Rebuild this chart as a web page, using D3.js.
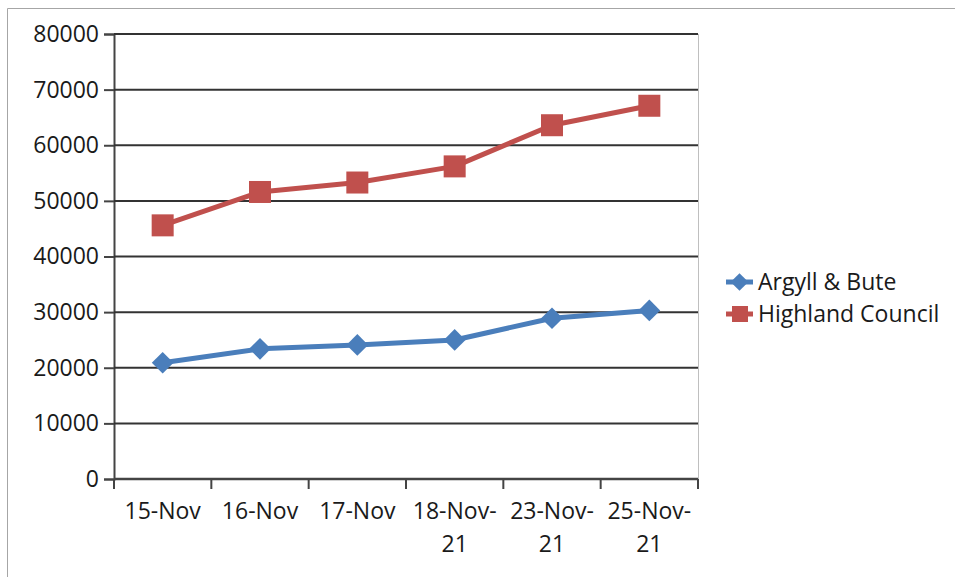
<!DOCTYPE html>
<html lang="en">
  <head>
    <meta charset='utf-8'>
    <script src='https://d3js.org/d3.v7.min.js'></script>
    <title>Argyll & Bute vs Highland Council</title>
    <style>
      body { margin: 0px; background: #fff; }
    </style>
  </head>
  <body>
    <div id='viz'></div>
    <script>
      // values
      const categories = [['15-Nov'], ['16-Nov'], ['17-Nov'], ['18-Nov-', '21'], ['23-Nov-', '21'], ['25-Nov-', '21']];
      const argyll = [20900, 23400, 24100, 25000, 28900, 30300];
      const highland = [45600, 51600, 53300, 56200, 63600, 67100];
      const yTicks = [0, 10000, 20000, 30000, 40000, 50000, 60000, 70000, 80000];
      const seriesNames = ['Argyll & Bute', 'Highland Council'];

      const width = 955, height = 577;
      const margin = { left: 114, right: 257, top: 34, bottom: 98 };
      const innerWidth = width - margin.left - margin.right;
      const innerHeight = height - margin.top - margin.bottom;
      const font = "'Open Sans', sans-serif";
      const textColor = '#1a1a1a';

      const svg = d3.select('#viz').append('svg')
        .attr('width', width)
        .attr('height', height);

      // outer chart border (runs off the right and bottom edges)
      svg.append('path')
        .attr('d', `M7.5,${height} V8.5 H${width}`)
        .attr('fill', 'none')
        .attr('stroke', '#a6a6a6');

      const g = svg.append('g')
        .attr('transform', `translate(${margin.left},${margin.top})`);

      const xScale = d3.scaleBand()
        .domain(d3.range(categories.length))
        .range([0, innerWidth]);

      const yScale = d3.scaleLinear()
        .domain([0, 80000])
        .range([innerHeight, 0]);

      // plot area right border
      g.append('line')
        .attr('x1', innerWidth + 0.5).attr('x2', innerWidth + 0.5)
        .attr('y1', 0).attr('y2', innerHeight)
        .attr('stroke', '#bfbfbf');

      const yAxis = d3.axisLeft(yScale)
        .tickValues(yTicks)
        .tickFormat(d3.format('d'))
        .tickSize(10)
        .tickPadding(5);

      const yAxisG = g.append('g').call(yAxis)
        .attr('font-size', 23)
        .attr('font-family', font);
      yAxisG.select('.domain').attr('stroke', '#444').attr('stroke-width', 2);
      yAxisG.selectAll('.tick line').attr('stroke', '#444').attr('stroke-width', 2);
      yAxisG.selectAll('.tick text').attr('fill', textColor);

      // horizontal gridlines
      g.append('g').selectAll('line')
        .data(yTicks.filter(d => d > 0))
        .join('line')
        .attr('x1', 0).attr('x2', innerWidth)
        .attr('y1', d => yScale(d)).attr('y2', d => yScale(d))
        .attr('stroke', '#333')
        .attr('stroke-width', 2);

      // x axis: ticks between categories
      const xAxisG = g.append('g')
        .attr('transform', `translate(0,${innerHeight})`);
      xAxisG.append('line')
        .attr('x1', 0).attr('x2', innerWidth)
        .attr('stroke', '#444').attr('stroke-width', 2.5);
      xAxisG.selectAll('.xt')
        .data(d3.range(categories.length + 1))
        .join('line')
        .attr('class', 'xt')
        .attr('x1', i => i * xScale.step()).attr('x2', i => i * xScale.step())
        .attr('y1', 0).attr('y2', 10)
        .attr('stroke', '#444').attr('stroke-width', 2);

      const xLabels = xAxisG.selectAll('.xlabel')
        .data(categories)
        .join('text')
        .attr('class', 'xlabel')
        .attr('transform', (d, i) => `translate(${xScale(i) + xScale.bandwidth() / 2},0)`)
        .attr('text-anchor', 'middle')
        .attr('font-size', 23)
        .attr('font-family', font)
        .attr('fill', textColor);
      xLabels.selectAll('tspan')
        .data(d => d)
        .join('tspan')
        .attr('x', 0)
        .attr('y', (d, i) => 40 + i * 33)
        .text(d => d);

      const xPos = (d, i) => xScale(i) + xScale.bandwidth() / 2;
      const line = d3.line().x(xPos).y(d => yScale(d));

      const colors = ['#4a7ebb', '#c0504d'];
      const diamond = d3.symbol().type(d3.symbolDiamond2).size(300);

      // Argyll & Bute
      g.append('path')
        .datum(argyll)
        .attr('d', line)
        .attr('fill', 'none')
        .attr('stroke', colors[0])
        .attr('stroke-width', 5)
        .attr('stroke-linejoin', 'round');
      g.selectAll('.dia')
        .data(argyll)
        .join('path')
        .attr('class', 'dia')
        .attr('transform', (d, i) => `translate(${xPos(d, i)},${yScale(d)})`)
        .attr('d', diamond)
        .attr('fill', colors[0]);

      // Highland Council
      g.append('path')
        .datum(highland)
        .attr('d', line)
        .attr('fill', 'none')
        .attr('stroke', colors[1])
        .attr('stroke-width', 5)
        .attr('stroke-linejoin', 'round');
      g.selectAll('.sq')
        .data(highland)
        .join('rect')
        .attr('class', 'sq')
        .attr('x', (d, i) => xPos(d, i) - 11)
        .attr('y', d => yScale(d) - 11)
        .attr('width', 22).attr('height', 22)
        .attr('fill', colors[1]);

      // legend
      const legend = svg.append('g')
        .attr('transform', 'translate(726,282)');
      const item = legend.selectAll('g')
        .data(seriesNames)
        .join('g')
        .attr('transform', (d, i) => `translate(0,${i * 32})`);
      item.append('line')
        .attr('x1', 0).attr('x2', 27)
        .attr('stroke', (d, i) => colors[i])
        .attr('stroke-width', 5);
      item.filter((d, i) => i === 0).append('path')
        .attr('transform', 'translate(13.5,0)')
        .attr('d', d3.symbol().type(d3.symbolDiamond2).size(200))
        .attr('fill', colors[0]);
      item.filter((d, i) => i === 1).append('rect')
        .attr('x', 6).attr('y', -8).attr('width', 16).attr('height', 16)
        .attr('fill', colors[1]);
      item.append('text')
        .attr('x', 32)
        .attr('y', 8)
        .attr('font-size', 23)
        .attr('font-family', font)
        .attr('fill', textColor)
        .text(d => d);
    </script>
  </body>
</html>
